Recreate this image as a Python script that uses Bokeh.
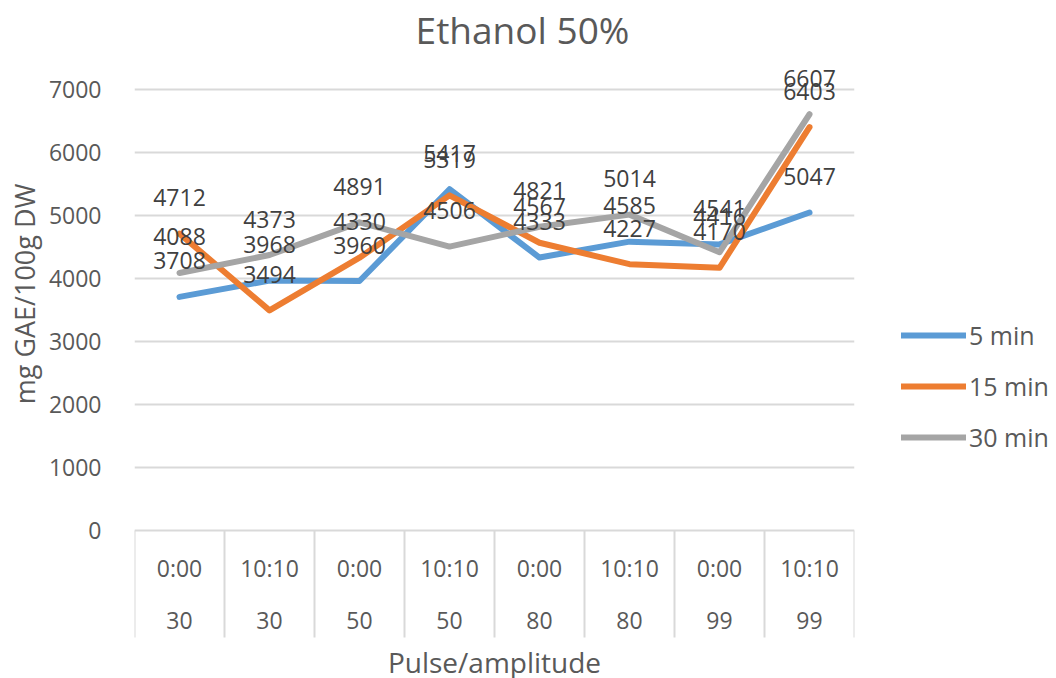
from bokeh.plotting import figure
from bokeh.models import Range1d, FixedTicker, Legend, LegendItem, Title
from bokeh.embed import file_html
from bokeh.resources import INLINE
from bokeh.core.properties import value

# ---- data ----
title_text = "Ethanol 50%"
pulses = ["0:00", "10:10", "0:00", "10:10", "0:00", "10:10", "0:00", "10:10"]
amplitudes = ["30", "30", "50", "50", "80", "80", "99", "99"]
series_names = ["5 min", "15 min", "30 min"]
min5 = [3708, 3968, 3960, 5417, 4333, 4585, 4541, 5047]
min15 = [4712, 3494, 4330, 5319, 4567, 4227, 4170, 6403]
min30 = [4088, 4373, 4891, 4506, 4821, 5014, 4416, 6607]
y_ticks = [0, 1000, 2000, 3000, 4000, 5000, 6000, 7000]

colors = ["#5B9BD5", "#ED7D31", "#A5A5A5"]
FONT = "Open Sans"
TXT = "#595959"
GRID = "#D9D9D9"

# layout: the plot frame covers the whole page height; value axis 0..7000
# spans 441 px with the zero line 530 px below the top of the frame
FRAME_H = 678
PX_PER_UNIT = 441 / 7000.0
ZERO_PX = 530
def ypx(px):
    """data y for a point px pixels below the top of the frame"""
    return (ZERO_PX - px) / PX_PER_UNIT

n = len(pulses)
x = list(range(1, n + 1))
CAT_PX = 90.0
def xpx(px):
    """data x for a point px pixels right of the frame's left edge"""
    return 0.5 + px / CAT_PX

p = figure(frame_width=720, frame_height=FRAME_H, title=None,
           x_range=Range1d(0.5, n + 0.5),
           y_range=Range1d(ypx(FRAME_H), ypx(0)),
           output_backend="svg", toolbar_location=None,
           min_border_left=125, min_border_right=195,
           min_border_top=0, min_border_bottom=0,
           x_axis_location=None, outline_line_color=None)

ax = p.yaxis[0]
ax.ticker = FixedTicker(ticks=y_ticks)
ax.axis_line_color = None
ax.major_tick_line_color = None
ax.minor_tick_line_color = None
ax.major_label_text_font = FONT
ax.major_label_text_font_size = "23px"
ax.major_label_text_color = TXT
ax.major_label_standoff = 27

ylab = Title(text="mg GAE/100g DW", align="right", offset=183, standoff=6,
             text_font=FONT, text_font_size="27px", text_font_style="normal",
             text_color=TXT)
p.add_layout(ylab, "left")

p.xgrid.visible = False
p.ygrid.ticker = FixedTicker(ticks=y_ticks)
p.ygrid.grid_line_color = GRID
p.ygrid.grid_line_width = 2

# ---- chart title ----
p.text([xpx(388)], [ypx(29)], text=[title_text], text_align="center",
       text_baseline="middle", text_font=value(FONT),
       text_font_size="37px", text_color=TXT)

# ---- category table below the zero line ----
dividers = [i + 0.5 for i in range(n + 1)]
p.segment(x0=dividers, y0=[0] * len(dividers), x1=dividers,
          y1=[ypx(ZERO_PX + 107)] * len(dividers), line_color=GRID, line_width=2)
p.text(x, [ypx(ZERO_PX + 37)] * n, text=pulses, text_align="center",
       text_baseline="middle", text_font=value(FONT), text_font_size="23px",
       text_color=TXT)
p.text(x, [ypx(ZERO_PX + 90)] * n, text=amplitudes, text_align="center",
       text_baseline="middle", text_font=value(FONT), text_font_size="23px",
       text_color=TXT)
p.text([(x[0] + x[-1]) / 2], [ypx(661)], text=["Pulse/amplitude"],
       text_align="center", text_baseline="middle", text_font=value(FONT),
       text_font_size="28px", text_color=TXT)

# ---- series ----
all_series = [min5, min15, min30]
items = []
for name, vals, c in zip(series_names, all_series, colors):
    r = p.line(x, vals, line_color=c, line_width=6, line_cap="round",
               line_join="round")
    items.append(LegendItem(label=name, renderers=[r]))

for vals in all_series:
    p.text(x, vals, text=[str(v) for v in vals], text_align="center",
           text_baseline="middle", y_offset=-36, text_font=value(FONT),
           text_font_size="23px", text_color="#404040")

legend = Legend(items=items, location=(47, 224), padding=0, margin=0,
                border_line_color=None, background_fill_alpha=0,
                glyph_width=65, glyph_height=20, label_height=20, spacing=17,
                label_standoff=3, label_text_font=FONT,
                label_text_font_size="25px", label_text_color=TXT)
p.add_layout(legend, "right")

open("out.html", "w").write(file_html(p, INLINE))
